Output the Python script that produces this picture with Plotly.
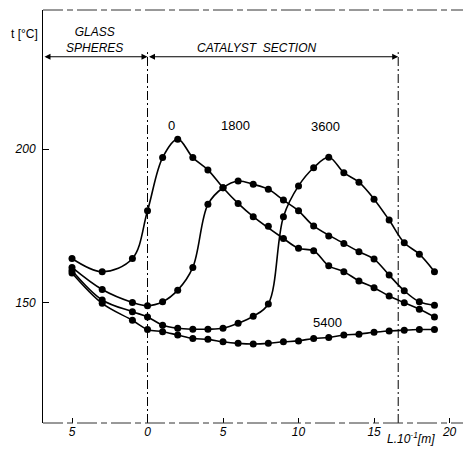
import plotly.graph_objects as go

# ---- data ----
L = [-5, -3, -1, 0, 1, 2, 3, 4, 5, 6, 7, 8, 9, 10, 11, 12, 13, 14, 15, 16, 17, 18, 19]
t_0 = [164.4, 160.1, 164.4, 179.9, 197.2, 203.2, 197.2, 193.2, 187.4, 182.3, 178.0, 174.9,
       170.9, 167.7, 166.9, 162.0, 160.1, 157.1, 154.9, 152.2, 150.0, 147.9, 145.4]
t_1800 = [161.5, 154.3, 150.1, 149.0, 150.3, 154.1, 161.5, 182.0, 187.4, 189.6, 188.5, 186.9,
          183.4, 179.9, 175.0, 171.7, 169.3, 166.6, 164.2, 159.0, 153.9, 150.3, 149.2]
t_3600 = [160.5, 150.9, 147.1, 145.4, 142.7, 141.7, 141.4, 141.4, 141.7, 143.3, 145.6, 149.6,
          178.0, 188.0, 193.9, 197.3, 192.3, 189.2, 183.7, 176.9, 169.5, 165.8, 160.1]
t_5400 = [159.7, 149.8, 144.3, 141.3, 140.6, 139.5, 138.4, 138.1, 137.3, 136.8, 136.6, 136.8,
          137.3, 137.6, 138.4, 138.7, 139.5, 139.8, 140.4, 140.8, 141.1, 141.3, 141.3]
series_names = ["0", "1800", "3600", "5400"]
series_vals = [t_0, t_1800, t_3600, t_5400]
# measured points lying off the drawn smooth curve
off_curve = {"0": [11], "1800": [15], "3600": [], "5400": []}

x_ticks = [-5, 0, 5, 10, 15, 20]
x_ticktext = ["5", "0", "5", "10", "15", "20"]
y_ticks = [150, 200]

glass_end = 0.0
catalyst_end = 16.6
X_MIN, X_MAX = -6.92, 20.89
Y_MIN, Y_MAX = 110.9, 245.2
Y_ARROW = 230.0

FONT = "Liberation Sans"
fig = go.Figure()

for name, vals in zip(series_names, series_vals):
    skip = set(off_curve[name])
    xs = [x for i, x in enumerate(L) if i not in skip]
    ys = [v for i, v in enumerate(vals) if i not in skip]
    fig.add_trace(go.Scatter(x=xs, y=ys, mode="lines",
                             line=dict(color="black", width=1.6, shape="spline", smoothing=1.0),
                             hoverinfo="skip", showlegend=False))
    fig.add_trace(go.Scatter(x=L, y=vals, mode="markers",
                             marker=dict(color="black", size=7), name=name, showlegend=False))

# series labels
label_pos = {"0": (1.56, 207.8), "1800": (5.8, 207.8), "3600": (11.8, 207.4), "5400": (11.95, 143.7)}
for name in series_names:
    lx, ly = label_pos[name]
    fig.add_annotation(x=lx, y=ly, text=name, showarrow=False,
                       xanchor="center", yanchor="middle",
                       font=dict(family=FONT, size=13, color="black"))

# section separators (dash-dot)
for xv in [glass_end, catalyst_end]:
    fig.add_shape(type="line", x0=xv, x1=xv, y0=Y_MIN, y1=Y_ARROW + 1.5, xref="x", yref="y",
                  line=dict(color="black", width=1, dash="9px,3px,2px,3px"))

# frame: top and bottom
fig.add_shape(type="line", x0=0, x1=1, y0=1, y1=1, xref="paper", yref="paper",
              line=dict(color="#333", width=1, dash="20px,4px,6px,4px"))
fig.add_shape(type="line", x0=0, x1=1, y0=0, y1=0, xref="paper", yref="paper",
              line=dict(color="#333", width=1, dash="20px,4px,6px,4px"))

# dimension arrows
for a, b in [(X_MIN, glass_end), (glass_end, catalyst_end)]:
    fig.add_annotation(x=b, y=Y_ARROW, ax=a, ay=Y_ARROW, xref="x", yref="y", axref="x", ayref="y",
                       showarrow=True, arrowhead=2, startarrowhead=2, arrowside="end+start",
                       arrowsize=1, arrowwidth=1.2, arrowcolor="black", text="")

fig.add_annotation(x=-3.5, y=235.5, text="GLASS<br>SPHERES", showarrow=False,
                   xanchor="center", yanchor="middle",
                   font=dict(family=FONT, size=12, color="black", style="italic"))
fig.add_annotation(x=7.2, y=232.9, text="CATALYST  SECTION", showarrow=False,
                   xanchor="center", yanchor="middle",
                   font=dict(family=FONT, size=12, color="black", style="italic"))
fig.add_annotation(x=-0.043, y=0.943, xref="paper", yref="paper", text="t [°C]", showarrow=False,
                   xanchor="center", yanchor="middle",
                   font=dict(family=FONT, size=12, color="black"))
fig.add_annotation(x=0.877, y=-0.037, xref="paper", yref="paper",
                   text="L.10<sup>-1</sup>[m]", showarrow=False,
                   xanchor="center", yanchor="middle",
                   font=dict(family=FONT, size=12, color="black", style="italic"))

fig.update_layout(
    width=463, height=450,
    margin=dict(l=43, r=0, t=10, b=27),
    plot_bgcolor="white", paper_bgcolor="white",
    xaxis=dict(range=[X_MIN, X_MAX], showgrid=False, zeroline=False, showline=False,
               ticks="inside", ticklen=5, tickcolor="black",
               tickvals=x_ticks, ticktext=x_ticktext,
               tickfont=dict(family=FONT, size=12, color="black", style="italic")),
    yaxis=dict(range=[Y_MIN, Y_MAX], showgrid=False, zeroline=False, showline=True,
               linecolor="black", linewidth=1,
               ticks="inside", ticklen=6, tickcolor="black", tickvals=y_ticks,
               ticklabelstandoff=4,
               tickfont=dict(family=FONT, size=12, color="black", style="italic")),
)

fig.write_html("out.html")
